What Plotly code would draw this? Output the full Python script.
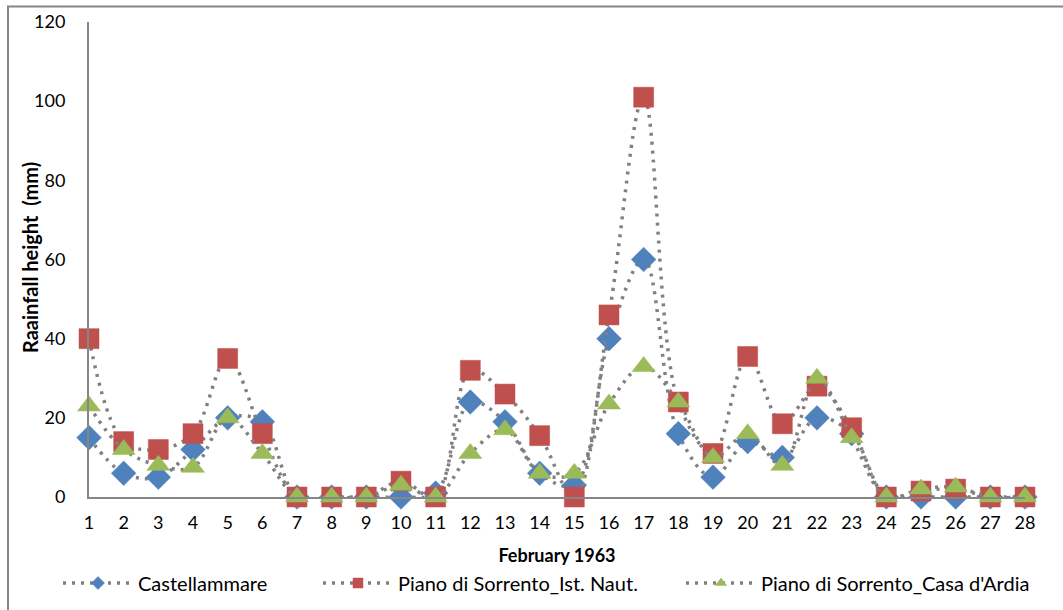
import plotly.graph_objects as go

# Daily rainfall, February 1963 (mm)
days = list(range(1, 29))
castellammare = [15, 6, 5, 12, 20, 19, 0, 0, 0, 0, 1, 24, 19, 6, 3, 40, 60, 16, 5, 14,
                 10, 20, 16, 0, 0, 0, 0, 0]
sorrento_ist_naut = [40, 14, 12, 16, 35, 16, 0, 0, 0, 4, 0, 32, 26, 15.5, 0, 46, 101, 24, 11, 35.5,
                     18.5, 28, 17.5, 0, 1.5, 2, 0, 0]
sorrento_casa_ardia = [23, 12, 8, 7.5, 20, 11, 0, 0, 0, 3, 0, 11, 17, 6, 6, 23.5, 33, 24, 10, 16,
                       8, 30, 15, 0, 2, 2.5, 0, 0]
y_ticks = [0, 20, 40, 60, 80, 100, 120]

FONT = "Lato, sans-serif"
LINE_GREY = "#808080"

# plot-area pixel geometry
L, R, T, B = 89, 1025, 22, 497
W, H = R - L, B - T

series = [
    ("Castellammare", castellammare, "#4F81BD", "diamond", 19, "legend", 58),
    ("Piano di Sorrento_Ist. Naut.", sorrento_ist_naut, "#C0504D", "square", 20, "legend2", 318),
    ("Piano di Sorrento_Casa d'Ardia", sorrento_casa_ardia, "#9BBB59", "triangle-up", 20, "legend3", 681),
]

fig = go.Figure()
legends = {}
for name, values, colour, symbol, size, legend_id, legend_px in series:
    line_style = dict(color=LINE_GREY, width=3.5, dash="3px,6px", shape="spline", smoothing=1.0)
    fig.add_trace(go.Scatter(
        x=days, y=values, name=name, mode="lines+markers", showlegend=False,
        line=line_style,
        marker=dict(color=colour, symbol=symbol, size=size, line=dict(color=colour, width=0.5)),
        cliponaxis=False,
    ))
    # legend key with a smaller marker
    fig.add_trace(go.Scatter(
        x=[None], y=[None], name=name, mode="lines+markers", legend=legend_id,
        line=line_style,
        marker=dict(color=colour, symbol=symbol, size=10, line=dict(color=colour, width=0.5)),
    ))
    legends[legend_id] = dict(
        orientation="h", x=(legend_px - L) / W, xanchor="left",
        y=(B - 583) / H, yanchor="middle",
        itemwidth=70,
        font=dict(size=20), bgcolor="rgba(0,0,0,0)",
    )

fig.update_layout(
    width=1063, height=610,
    margin=dict(l=L, r=1063 - R, t=T, b=610 - B, autoexpand=False),
    paper_bgcolor="white", plot_bgcolor="white",
    font=dict(family=FONT, size=18, color="black"),
    showlegend=True,
    **legends,
    xaxis=dict(
        range=[1, 28], tickmode="array", tickvals=days,
        ticktext=[str(d) for d in days],
        showgrid=False, zeroline=False,
        showline=True, linecolor="#868686", linewidth=2,
        ticks="", ticklabelstandoff=8,
        title=dict(text="<b>February 1963</b>", font=dict(size=18), standoff=18),
    ),
    yaxis=dict(
        range=[0, 120], tickmode="array", tickvals=y_ticks,
        showgrid=False, zeroline=False,
        showline=True, linecolor="#868686", linewidth=2,
        ticks="", ticklabelstandoff=18,
    ),
    annotations=[dict(
        text="<b>Raainfall height  (mm)</b>", textangle=-90,
        xref="paper", yref="paper", x=(30 - L) / W, y=(B - 258) / H,
        xanchor="center", yanchor="middle", showarrow=False,
        font=dict(size=20),
    )],
    shapes=[dict(
        type="rect", xref="paper", yref="paper",
        x0=(8 - L) / W, x1=1.3, y0=-0.5, y1=1 + (T - 6.5) / H,
        line=dict(color="#868686", width=2), fillcolor="rgba(0,0,0,0)", layer="below",
    )],
)

fig.write_html("out.html")
